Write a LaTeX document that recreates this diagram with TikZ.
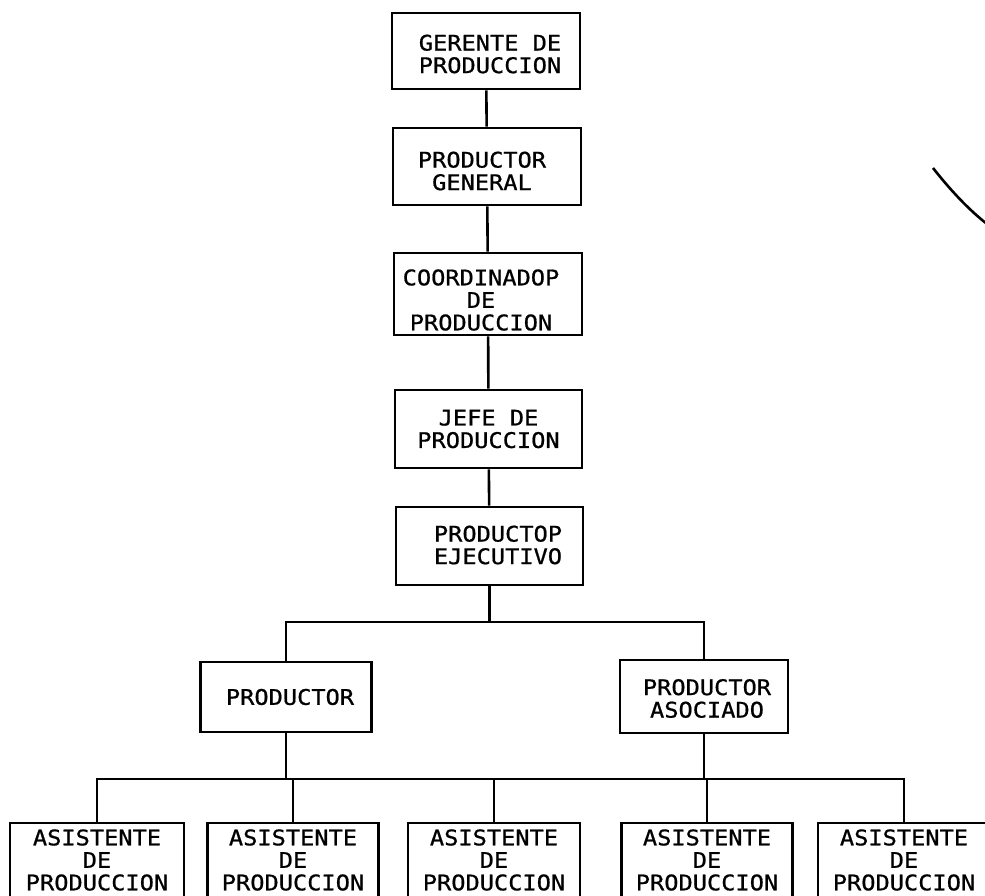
\documentclass[tikz,border=0pt]{standalone}
\usepackage{fontspec}
\newfontfamily\tw[FakeStretch=1.1,FakeBold=0.8]{DejaVu Sans Mono}
\begin{document}
\begin{tikzpicture}[x=1pt,y=-1pt,
  box/.style={draw, line width=2.6pt, inner sep=0pt},
  txt/.style={inner sep=0pt, align=center, font=\tw\fontsize{21.5}{22.5}\selectfont},
  conn/.style={line width=2.6pt}]
\useasboundingbox (0,0) rectangle (985,896);
\clip (0,0) rectangle (985,896);
\fill[white] (0,0) rectangle (985,896);
% boxes
\node[box, minimum width=188pt, minimum height=76pt] (g)  at (486,51)    {};
\node[box, minimum width=188pt, minimum height=77pt] (pg) at (487,166.5) {};
\node[box, minimum width=188pt, minimum height=82pt] (co) at (488,294)   {};
\node[box, minimum width=187pt, minimum height=78pt] (je) at (488.5,429) {};
\node[box, minimum width=187pt, minimum height=78pt] (ej) at (489.5,546) {};
\node[box, minimum width=171pt, minimum height=70pt] (p)  at (286,697)   {};
\node[box, minimum width=168pt, minimum height=73pt] (pa) at (704,696.5) {};
\node[box, minimum width=174pt, minimum height=82pt] (a1) at (97,864)  {};
\node[box, minimum width=171pt, minimum height=82pt] (a2) at (293,864) {};
\node[box, minimum width=172pt, minimum height=82pt] (a3) at (494,864) {};
\node[box, minimum width=171pt, minimum height=82pt] (a4) at (707,864) {};
\node[box, minimum width=172pt, minimum height=82pt] (a5) at (904,864) {};
% texts
\node[txt, xshift=4pt,   yshift=-3pt]   (gt)  at (g)  {GERENTE DE\\PRODUCCION};
\node[txt, xshift=-5pt,  yshift=-4.5pt] (pgt) at (pg) {PRODUCTOR\\GENERAL};
\node[txt, xshift=-7pt,  yshift=-6pt]   (cot) at (co) {COORDINADOP\\DE\\PRODUCCION};
\node[txt]                              (jet) at (je) {JEFE DE\\PRODUCCION};
\node[txt, xshift=8.5pt, yshift=1pt]    (ejt) at (ej) {PRODUCTOP\\EJECUTIVO};
\node[txt, xshift=4pt]                  (pt)  at (p)  {PRODUCTOR};
\node[txt, xshift=3pt,   yshift=-2pt]   (pat) at (pa) {PRODUCTOR\\ASOCIADO};
\node[txt, yshift=4pt] (a1t) at (a1) {ASISTENTE\\DE\\PRODUCCION};
\node[txt, yshift=4pt] (a2t) at (a2) {ASISTENTE\\DE\\PRODUCCION};
\node[txt, yshift=4pt] (a3t) at (a3) {ASISTENTE\\DE\\PRODUCCION};
\node[txt, yshift=4pt] (a4t) at (a4) {ASISTENTE\\DE\\PRODUCCION};
\node[txt, yshift=4pt] (a5t) at (a5) {ASISTENTE\\DE\\PRODUCCION};
% connectors
\draw[conn] (g) -- (pg);
\draw[conn] (pg) -- (co);
\draw[conn] (co) -- (je);
\draw[conn] (je) -- (ej);
\coordinate (b1) at (489.5,622);
\coordinate (b2) at (500,779);
\draw[conn] (ej.south) -- (b1);
\draw[conn] (p.north) -- (p.north |- b1) -- (pa.north |- b1) -- (pa.north);
\draw[conn] (p.south) -- (p.south |- b2);
\draw[conn] (pa.south) -- (pa.south |- b2);
\draw[conn] (a1.north) -- (a1.north |- b2) -- (a5.north |- b2) -- (a5.north);
\draw[conn] (a2.north) -- (a2.north |- b2);
\draw[conn] (a3.north) -- (a3.north |- b2);
\draw[conn] (a4.north) -- (a4.north |- b2);
% stray stroke at upper right
\coordinate (s1) at (933,168);
\coordinate (s2) at (987,224);
\draw[line width=2.6pt] (s1) .. controls (944,182) and (964,206) .. (s2);
\end{tikzpicture}
\end{document}
